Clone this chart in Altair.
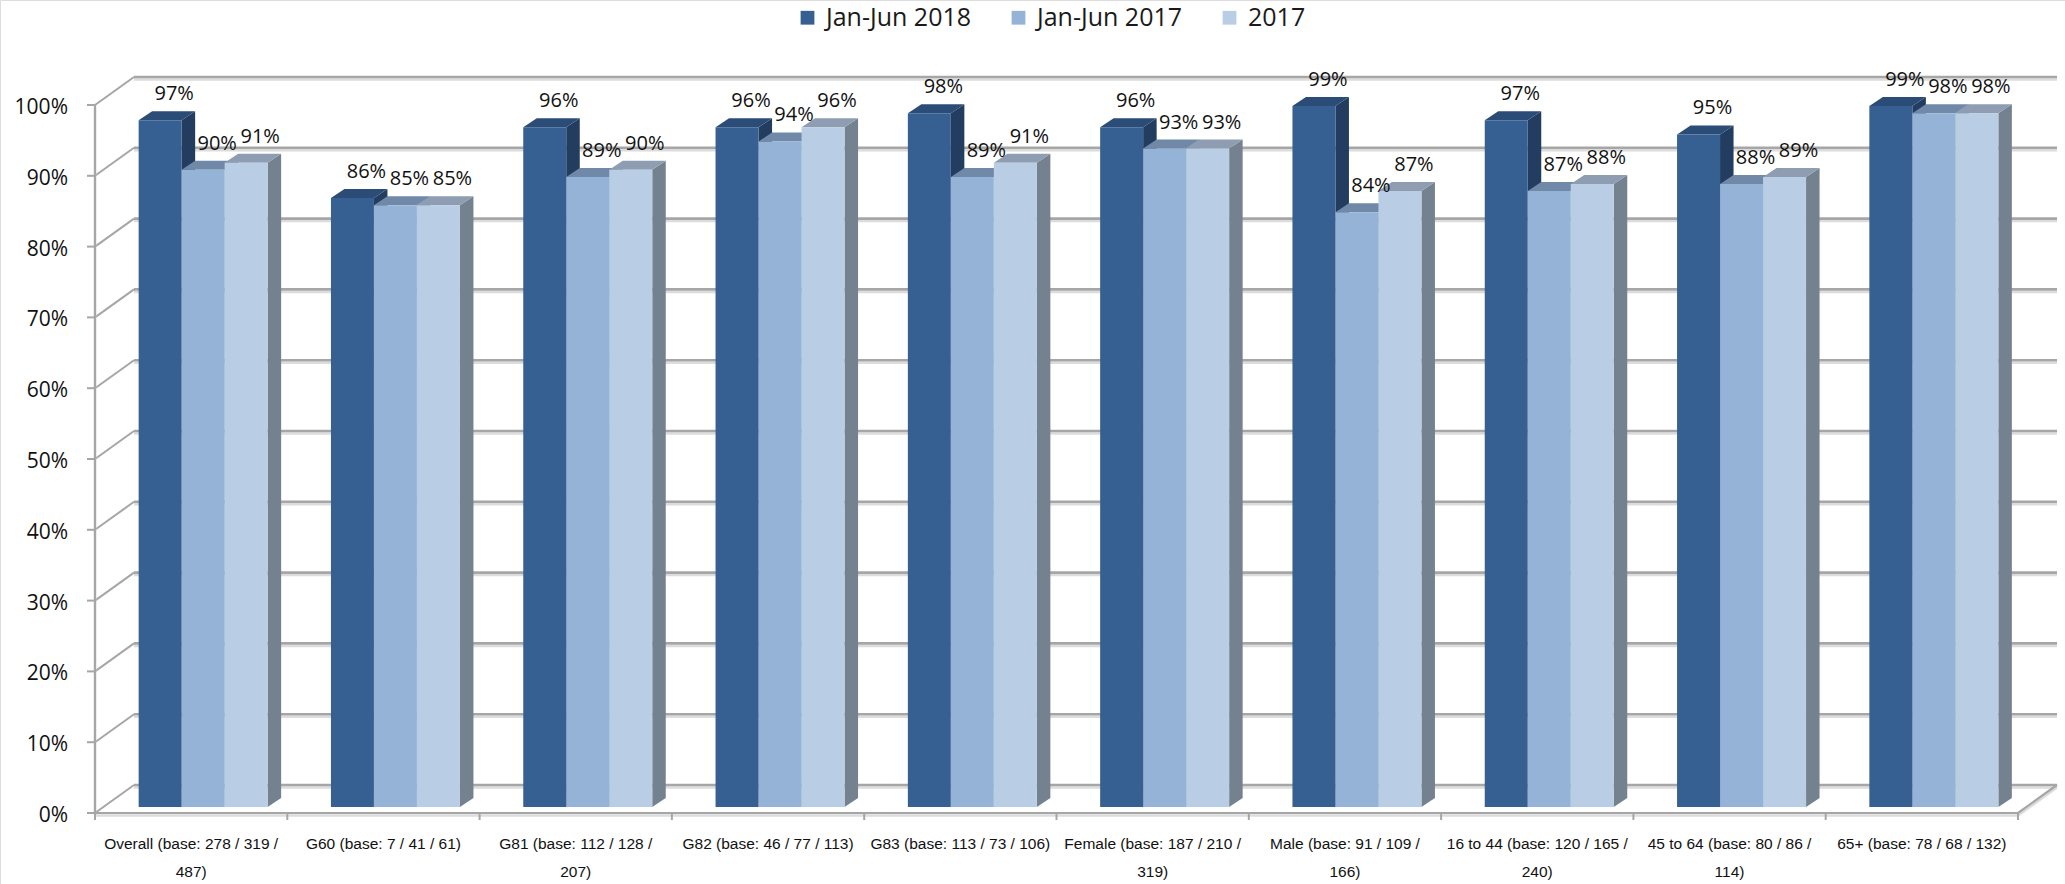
import altair as alt
import pandas as pd

# ---- data -------------------------------------------------------------
categories = [
    "Overall (base: 278 / 319 /\n487)",
    "G60 (base: 7 / 41 / 61)",
    "G81 (base: 112 / 128 /\n207)",
    "G82 (base: 46 / 77 / 113)",
    "G83 (base: 113 / 73 / 106)",
    "Female (base: 187 / 210 /\n319)",
    "Male (base: 91 / 109 /\n166)",
    "16 to 44 (base: 120 / 165 /\n240)",
    "45 to 64 (base: 80 / 86 /\n114)",
    "65+ (base: 78 / 68 / 132)",
]
series_names = ["Jan-Jun 2018", "Jan-Jun 2017", "2017"]
jan_jun_2018 = [97, 86, 96, 96, 98, 96, 99, 97, 95, 99]
jan_jun_2017 = [90, 85, 89, 94, 89, 93, 84, 87, 88, 98]
full_2017 = [91, 85, 90, 96, 91, 93, 87, 88, 89, 98]
y_ticks = [0, 10, 20, 30, 40, 50, 60, 70, 80, 90, 100]

front_colors = ["#376092", "#95b3d7", "#b9cde5"]
top_colors = ["#2b4c76", "#7189a9", "#8e9db1"]
side_colors = ["#223d5f", "#6d8099", "#74828f"]

# ---- frame of the front plane ----------------------------------------
W, H = 2065, 884
X_RANGE = [95, 2018]
Y_RANGE = [813, 105]
n_cat = len(categories)
PX_PER_CAT = (X_RANGE[1] - X_RANGE[0]) / n_cat
PX_PER_PCT = (Y_RANGE[0] - Y_RANGE[1]) / 100.0


def dx(px):
    return px / PX_PER_CAT


def dy(px):
    return px / PX_PER_PCT


WALL = (dx(39), dy(28))     # back wall offset
PLANE = (dx(12), dy(6))     # plane the bars stand on
DEPTH = (dx(13.5), dy(9))   # bar depth
BAR_W = dx(43)
X0, X1 = -0.5, n_cat - 0.5

xs = alt.Scale(domain=[X0, X1], range=X_RANGE, nice=False, zero=False)
ys = alt.Scale(domain=[0, 100], range=Y_RANGE, nice=False, zero=False)

# ---- bar geometry -----------------------------------------------------
values = [jan_jun_2018, jan_jun_2017, full_2017]
fronts, tops, sides = [], [], []
for j, (name, vals) in enumerate(zip(series_names, values)):
    for i, v in enumerate(vals):
        c = i + (j - 1) * BAR_W + PLANE[0]
        xl, xr = c - BAR_W / 2, c + BAR_W / 2
        y0, y1 = PLANE[1], v + PLANE[1]
        bid = f"{j}-{i}"
        fronts.append(dict(series=name, s=j, xl=xl, xr=xr, xc=c, y0=y0, y1=y1,
                           label=f"{v}%"))
        tops.append(dict(bar=bid, s=j, y=y1, xa=xl, xb=xr))
        tops.append(dict(bar=bid, s=j, y=y1 + DEPTH[1], xa=xl + DEPTH[0], xb=xr + DEPTH[0]))
        sides.append(dict(bar=bid, s=j, x=xr, ya=y0, yb=y1))
        sides.append(dict(bar=bid, s=j, x=xr + DEPTH[0], ya=y0 + DEPTH[1], yb=y1 + DEPTH[1]))
front_df = pd.DataFrame(fronts)
top_df = pd.DataFrame(tops)
side_df = pd.DataFrame(sides)

# ---- walls, floor and ticks -------------------------------------------
grid_col = "#a6a6a6"
shadow_col = "#dcdcdc"

back_df = pd.DataFrame({
    "x": [X0 + WALL[0]] * len(y_ticks),
    "x2": [X1 + WALL[0]] * len(y_ticks),
    "y": [t + WALL[1] for t in y_ticks],
})
diag_df = pd.DataFrame({
    "x": [X0] * len(y_ticks),
    "x2": [X0 + WALL[0]] * len(y_ticks),
    "y": y_ticks,
    "y2": [t + WALL[1] for t in y_ticks],
})
ytick_df = pd.DataFrame({
    "x": [X0] * len(y_ticks),
    "x2": [X0 - dx(8)] * len(y_ticks),
    "y": y_ticks,
    "label": [f"{t}%" for t in y_ticks],
})
edge_df = pd.DataFrame({
    "x": [X0, X0, X1],
    "x2": [X0, X1, X1 + WALL[0]],
    "y": [0, 0, 0],
    "y2": [100, 0, WALL[1]],
})
ctick_df = pd.DataFrame({
    "x": [k - 0.5 for k in range(n_cat + 1)],
    "y": [0] * (n_cat + 1),
    "y2": [-dy(7)] * (n_cat + 1),
})
cat_df = pd.DataFrame({"x": list(range(n_cat)), "y": [0] * n_cat, "label": categories})


def Xq(f):
    return alt.X(f"{f}:Q", scale=xs, axis=None)


def Yq(f):
    return alt.Y(f"{f}:Q", scale=ys, axis=None)


layers = []

# back wall gridlines with a soft shadow
layers.append(alt.Chart(back_df).mark_rule(color=shadow_col, strokeWidth=2.5, yOffset=2.5, y2Offset=2.5).encode(
    x=Xq("x"), x2="x2:Q", y=Yq("y")))
layers.append(alt.Chart(back_df).mark_rule(color=grid_col, strokeWidth=2.6).encode(
    x=Xq("x"), x2="x2:Q", y=Yq("y")))
# left wall diagonals
layers.append(alt.Chart(diag_df).mark_rule(color=grid_col, strokeWidth=2).encode(
    x=Xq("x"), x2="x2:Q", y=Yq("y"), y2="y2:Q"))
# front axis, floor edge and its right side
layers.append(alt.Chart(edge_df).mark_rule(color=shadow_col, strokeWidth=2.5, yOffset=2.5, y2Offset=2.5).encode(
    x=Xq("x"), x2="x2:Q", y=Yq("y"), y2="y2:Q"))
layers.append(alt.Chart(edge_df).mark_rule(color=grid_col, strokeWidth=2.2).encode(
    x=Xq("x"), x2="x2:Q", y=Yq("y"), y2="y2:Q"))
# y ticks
layers.append(alt.Chart(ytick_df).mark_rule(color=grid_col, strokeWidth=2).encode(
    x=Xq("x"), x2="x2:Q", y=Yq("y")))
# category ticks
layers.append(alt.Chart(ctick_df).mark_rule(color=grid_col, strokeWidth=2).encode(
    x=Xq("x"), y=Yq("y"), y2="y2:Q"))

# bars: side, top and front face per series, back to front
for j in range(len(series_names)):
    layers.append(alt.Chart(side_df[side_df.s == j]).mark_area(
        color=side_colors[j], interpolate="linear").encode(
        x=Xq("x"), y=Yq("ya"), y2="yb:Q", detail="bar:N"))
    layers.append(alt.Chart(top_df[top_df.s == j]).mark_area(
        color=top_colors[j], orient="horizontal", interpolate="linear").encode(
        y=Yq("y"), x=Xq("xa"), x2="xb:Q", detail="bar:N"))
    layers.append(alt.Chart(front_df[front_df.s == j]).mark_rect(strokeWidth=0).encode(
        x=Xq("xl"), x2="xr:Q", y=Yq("y0"), y2="y1:Q",
        color=alt.Color("series:N",
                        scale=alt.Scale(domain=series_names, range=front_colors),
                        legend=alt.Legend(title=None, orient="none", legendX=795, legendY=5,
                                          direction="horizontal", symbolType="square",
                                          symbolSize=190, symbolStrokeWidth=0,
                                          labelFont="Open Sans", labelFontSize=25,
                                          labelColor="#1a1a1a", labelOffset=6,
                                          columnPadding=34, padding=0))))

# value labels
layers.append(alt.Chart(front_df).mark_text(
    font="Open Sans", fontSize=20, color="#111111", dx=14, dy=-20, baseline="alphabetic").encode(
    x=Xq("xc"), y=Yq("y1"), text="label:N"))

# y-axis labels
layers.append(alt.Chart(ytick_df).mark_text(
    font="Open Sans", fontSize=21, color="#111111", align="right", baseline="middle", dx=-27, dy=3).encode(
    x=Xq("x"), y=Yq("y"), text="label:N"))

# category labels
layers.append(alt.Chart(cat_df).mark_text(
    font="Liberation Sans", fontSize=15.5,
    color="#111111", align="center", baseline="top", lineBreak="\n", lineHeight=28, dy=24).encode(
    x=Xq("x"), y=Yq("y"), text="label:N"))

chart = alt.layer(*layers).properties(
    width=W, height=H, padding=0, autosize=alt.AutoSizeParams(type="none")
).configure_view(stroke=None).configure(background="white")

chart.save("out.html", embed_options={"renderer": "svg", "actions": False})
